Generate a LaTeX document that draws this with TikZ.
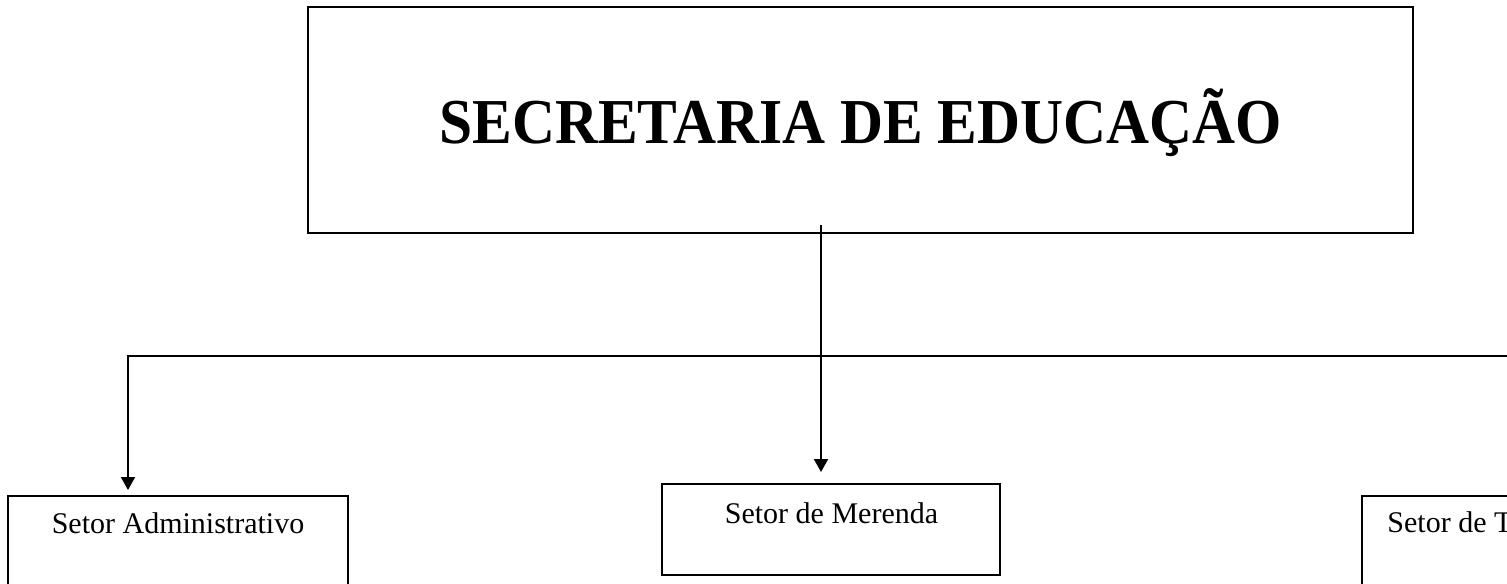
\documentclass[tikz,border=0pt]{standalone}
\usepackage{fontspec}
\setmainfont{Liberation Serif}
\usetikzlibrary{arrows.meta}
\begin{document}
\begin{tikzpicture}[x=0.5pt,y=-0.5pt,
  box/.style={draw, line width=1pt, inner sep=0pt, outer sep=0pt, anchor=north west},
  conn/.style={line width=1pt, line join=miter},
  arr/.style={conn, -{Triangle[width=7pt,length=6.5pt]}},
  lbl/.style={font=\fontsize{15pt}{18pt}\selectfont, inner sep=0pt, anchor=base},
  titlefont/.style={font=\fontsize{32pt}{38pt}\selectfont\bfseries, inner sep=0pt, anchor=base}]
\useasboundingbox (0,0) rectangle (1507,583);
\clip (0,0) rectangle (1507,583);
% boxes
\node[box, minimum width=552.5pt, minimum height=113pt] (sec) at (308,7) {};
\node[box, minimum width=170pt, minimum height=60pt] (adm) at (8,496) {};
\node[box, minimum width=169pt, minimum height=45.5pt] (mer) at (662,484) {};
\node[box, minimum width=170pt, minimum height=60pt] (tec) at (1362,496) {};
% texts
\node[titlefont] (sectxt) at (860.5,143) {\scalebox{0.93}[1]{SECRETARIA DE EDUCAÇÃO}};
\node[lbl] (admtxt) at (178,533) {Setor Administrativo};
\node[lbl] (mertxt) at (831.5,523) {Setor de Merenda};
\node[lbl, anchor=base west] (tectxt) at (1387,532) {Setor de T};
% connectors
\coordinate (cs) at (821,225);
\coordinate (hj) at (821,356);
\coordinate (lt) at (128,496);
\draw[arr, shorten >=6pt] (cs) -- (cs |- mer.north);
\draw[arr, shorten >=3pt] (hj) -| (lt);
\draw[arr, shorten >=3pt] (hj) -| (tec.north);
\end{tikzpicture}
\end{document}
